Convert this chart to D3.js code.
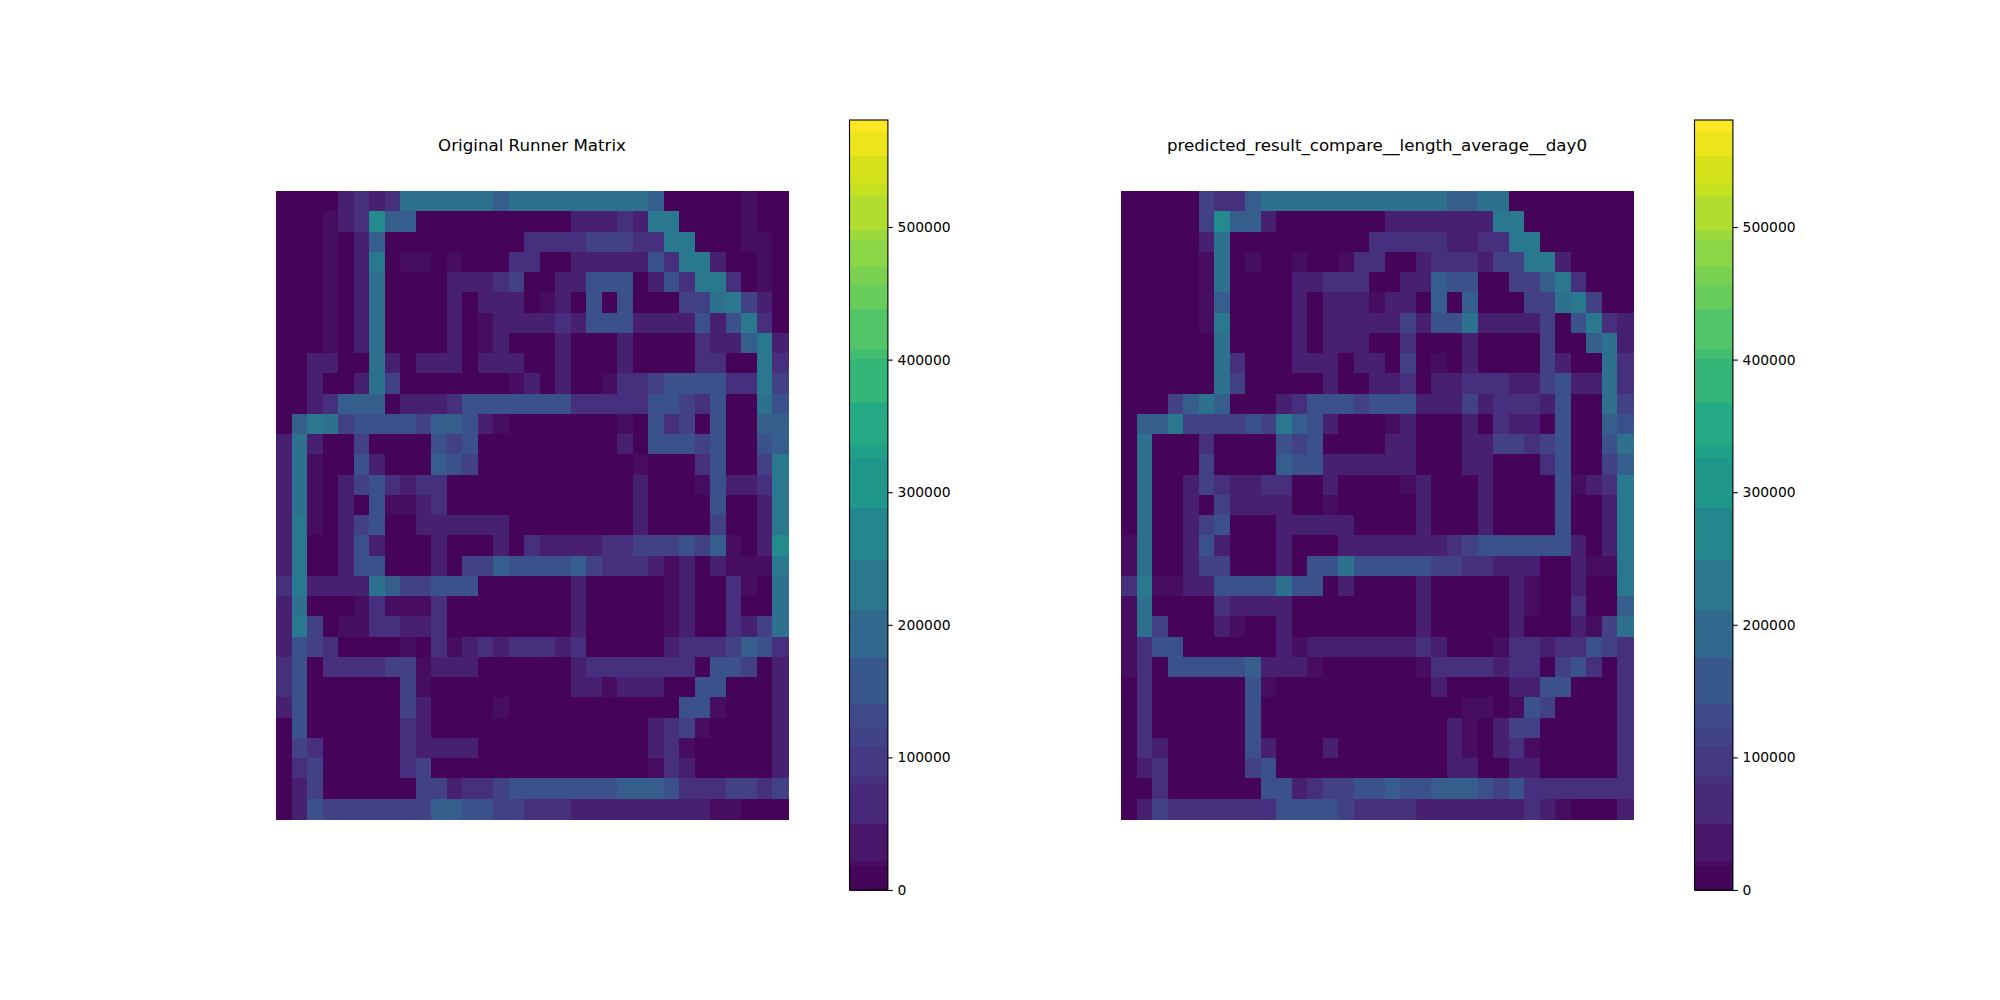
<!DOCTYPE html>
<html><head><meta charset="utf-8">
<script src="https://cdn.jsdelivr.net/npm/d3@7"></script>
<style>html,body{margin:0;padding:0;background:#fff}svg{display:block}text{font-family:"DejaVu Sans";fill:#000}</style>
</head><body><svg id="c" width="2000" height="1000"></svg>
<script>
// cell levels (values)
const a=5000,b=20000,c=50000,d=80000,e=112000,f=145000,g=172000,h=215000,i=232000,j=275000;
const leftTitle="Original Runner Matrix";
const rightTitle="predicted_result_compare__length_average__day0";
const tickValues=[0,100000,200000,300000,400000,500000];
const maxValue=580700;
const bandEdges=[0,18100,22600,49800,79200,86000,108600,122200,140300,175000,211200,249600,288100,326500,335600,367300,401200,408000,438200,456300,469900,490300,497800,524100,533200,554300,571700,580700];
const leftMatrix=[
[a,a,a,a,c,d,c,d,h,h,h,h,h,h,g,h,h,h,h,h,h,h,h,h,g,a,a,a,a,a,b,a,a],
[a,a,a,b,c,d,j,g,g,a,a,a,a,a,a,a,a,a,a,c,c,c,d,c,i,i,a,a,a,a,b,a,a],
[a,a,a,b,a,c,g,a,a,a,a,a,a,a,a,a,d,d,d,d,e,e,e,d,d,i,i,a,a,a,b,b,a],
[a,a,a,b,a,c,i,a,b,b,a,b,a,a,a,d,d,a,a,c,c,c,c,c,f,d,i,i,c,a,a,b,a],
[a,a,a,b,a,c,h,a,a,a,a,c,c,c,d,e,a,a,c,c,f,f,f,a,c,f,d,i,i,d,a,b,a],
[a,a,a,b,a,c,h,a,a,a,a,c,a,c,c,c,a,b,c,a,f,a,f,a,a,a,e,e,h,i,e,c,a],
[a,a,a,b,a,c,h,a,a,a,a,c,a,b,c,c,c,c,d,c,f,f,f,c,c,c,c,f,c,f,i,d,a],
[a,a,a,b,a,c,h,a,a,a,a,c,a,b,c,a,a,a,c,a,a,a,c,a,a,a,a,d,c,c,g,i,c],
[a,a,c,c,a,a,h,c,a,c,c,c,a,c,c,c,a,a,c,a,a,a,c,a,a,a,a,d,d,a,a,i,d],
[a,a,c,a,a,c,h,e,a,a,a,a,a,a,a,b,c,a,c,a,a,b,d,d,e,f,f,f,f,d,d,i,e],
[a,a,c,d,g,g,g,a,c,c,c,d,f,f,f,f,f,f,f,d,d,d,d,d,f,f,e,d,f,a,a,h,f],
[a,g,i,h,e,f,f,f,f,e,g,g,f,c,b,a,a,a,a,a,a,a,b,a,f,d,e,a,f,a,a,g,g],
[c,h,c,a,a,e,a,a,a,a,f,e,f,a,a,a,a,a,a,a,a,a,c,a,f,f,f,e,f,a,a,f,g],
[c,h,b,a,a,f,c,a,a,a,g,f,e,a,a,a,a,a,a,a,a,a,a,b,a,a,a,d,f,a,a,e,i],
[c,h,b,a,c,e,f,d,c,d,d,a,a,a,a,a,a,a,a,a,a,a,a,c,a,a,a,b,f,c,c,d,i],
[c,h,b,a,c,a,f,b,b,c,d,a,a,a,a,a,a,a,a,a,a,a,a,c,a,a,a,a,f,a,a,c,i],
[c,i,b,a,c,e,f,a,a,c,c,c,c,c,c,a,a,a,a,a,a,a,a,c,a,a,a,a,e,a,a,c,i],
[c,i,a,a,c,f,c,a,a,a,c,a,a,a,c,a,d,c,c,c,c,d,d,e,e,e,f,e,g,b,a,c,j],
[c,i,a,a,c,f,f,a,a,a,c,a,e,e,g,f,f,f,f,g,e,d,d,d,c,b,c,a,c,b,b,b,i],
[d,i,c,c,c,c,h,g,e,e,f,f,f,a,a,a,a,a,a,c,a,a,a,a,a,b,c,a,a,d,b,a,h],
[c,h,a,a,a,b,d,b,b,b,d,a,a,a,a,a,a,a,a,c,a,a,a,a,a,b,c,a,a,d,a,a,h],
[c,i,e,a,b,b,d,d,c,c,d,a,a,a,a,a,a,a,a,c,a,a,a,a,a,b,c,a,a,d,c,e,h],
[c,f,e,d,a,a,a,a,b,a,d,b,c,d,c,d,d,d,c,d,a,a,a,a,a,c,d,d,d,e,g,f,d],
[d,f,a,d,d,d,d,e,e,b,c,c,c,a,a,a,a,a,a,c,d,d,d,d,d,d,d,a,f,f,e,a,c],
[d,f,a,a,a,a,a,a,e,b,a,a,a,a,a,a,a,a,a,c,c,b,c,c,c,a,a,f,f,a,a,a,c],
[c,f,a,a,a,a,a,a,e,c,a,a,a,a,b,a,a,a,a,a,a,a,a,a,a,a,f,f,b,a,a,a,c],
[a,f,a,a,a,a,a,a,d,c,a,a,a,a,a,a,a,a,a,a,a,a,a,a,c,d,e,b,a,a,a,a,c],
[a,e,d,a,a,a,a,a,d,c,c,c,c,a,a,a,a,a,a,a,a,a,a,a,c,d,b,a,a,a,a,a,c],
[a,d,e,a,a,a,a,a,d,e,a,a,a,a,a,a,a,a,a,a,a,a,a,a,b,d,c,a,a,a,a,a,c],
[a,c,e,a,a,a,a,a,a,e,e,c,d,d,e,f,f,f,f,f,f,f,g,g,g,f,d,d,d,e,e,d,e],
[a,c,f,e,e,e,e,e,e,e,g,g,f,f,e,e,d,d,d,c,c,c,c,c,c,c,c,c,b,b,a,a,a]
];
const rightMatrix=[
[a,a,a,a,a,e,d,d,g,h,h,h,h,h,h,h,h,h,h,h,h,g,g,h,h,a,a,a,a,a,a,a,a],
[a,a,a,a,a,e,j,g,g,c,a,a,a,a,a,a,a,c,c,c,c,c,c,c,i,i,a,a,a,a,a,a,a],
[a,a,a,a,a,c,h,a,a,a,a,a,a,a,a,a,d,d,d,d,d,c,c,d,d,i,i,a,a,a,a,a,a],
[a,a,a,a,a,b,h,a,b,a,a,b,a,a,b,d,d,a,a,c,d,d,d,c,e,e,i,i,c,a,a,a,a],
[a,a,a,a,a,b,h,a,a,a,a,c,c,d,d,d,a,a,c,c,g,f,f,a,a,e,e,g,i,d,a,a,a],
[a,a,a,a,a,b,g,a,a,a,a,c,a,c,c,c,b,c,c,a,g,a,g,a,a,a,e,e,h,i,e,a,a],
[a,a,a,a,a,b,i,a,a,a,a,c,a,c,c,c,c,c,e,c,f,f,h,c,c,c,c,e,a,f,i,d,c],
[a,a,a,a,a,a,h,a,a,a,a,c,a,c,c,c,a,a,d,a,a,a,c,a,a,a,a,e,a,a,g,h,c],
[a,a,a,a,a,a,h,d,a,a,a,c,c,c,a,c,c,a,e,a,b,a,c,a,a,a,a,e,c,a,a,h,d],
[a,a,a,a,a,a,h,e,a,a,a,a,a,c,a,a,c,c,d,a,c,c,d,d,d,c,c,e,f,c,c,h,d],
[a,a,a,e,g,h,g,a,a,a,c,d,f,f,f,e,f,f,f,c,c,c,e,c,d,d,d,c,f,a,a,h,e],
[a,g,g,i,e,e,e,e,f,e,i,g,f,c,a,a,a,b,c,a,a,a,c,a,d,c,c,a,f,a,a,g,f],
[a,h,a,a,a,d,a,a,a,a,f,e,f,a,a,a,a,c,c,a,a,a,c,c,e,e,d,e,f,a,a,f,h],
[a,h,a,a,a,e,a,a,a,a,g,f,f,c,c,c,c,c,c,a,a,a,c,c,a,a,a,d,f,a,a,e,g],
[a,h,a,a,c,e,d,c,c,d,d,a,a,c,a,a,a,a,b,c,a,a,a,c,a,a,a,a,f,b,c,d,i],
[a,h,a,a,c,a,e,c,c,c,c,a,a,b,a,a,a,a,a,c,a,a,a,c,a,a,a,a,f,a,a,c,i],
[a,h,a,a,c,e,f,a,a,a,c,c,c,c,c,a,a,a,a,c,a,a,a,c,a,a,a,a,f,a,a,c,i],
[b,h,a,a,c,f,c,a,a,a,c,a,a,a,c,c,c,c,c,c,c,d,e,f,f,f,f,f,f,c,a,c,i],
[b,h,a,a,c,e,e,a,a,a,c,a,f,f,h,f,f,f,f,f,e,e,d,d,c,c,c,a,a,c,b,b,i],
[d,i,b,b,c,c,f,f,f,f,h,f,f,a,c,a,a,a,a,c,a,a,a,a,a,c,b,a,a,c,a,a,i],
[b,h,a,a,a,a,d,c,c,c,c,a,a,a,a,a,a,a,a,c,a,a,a,a,a,c,b,a,a,d,a,a,g],
[b,h,e,a,a,a,c,b,a,a,c,a,a,a,a,a,a,a,a,c,a,a,a,a,a,c,a,a,a,c,b,e,h],
[b,d,f,f,a,a,a,a,a,a,c,b,c,c,c,c,c,c,c,d,c,a,a,a,b,d,d,c,d,d,f,e,d],
[b,d,a,f,f,f,f,f,g,c,c,c,b,a,a,a,a,a,a,b,d,d,d,d,c,d,d,a,e,f,d,a,d],
[a,d,a,a,a,a,a,a,f,b,a,a,a,a,a,a,a,a,a,a,c,a,a,a,a,c,c,f,f,a,a,a,d],
[a,d,a,a,a,a,a,a,f,a,a,a,a,a,a,a,a,a,a,a,a,a,b,b,a,b,f,e,a,a,a,a,d],
[a,d,a,a,a,a,a,a,f,a,a,a,a,a,a,a,a,a,a,a,a,c,b,a,c,e,e,a,a,a,a,a,d],
[a,d,c,a,a,a,a,a,f,c,a,a,a,c,a,a,a,a,a,a,a,c,b,a,c,d,b,a,a,a,a,a,d],
[a,c,d,a,a,a,a,a,e,f,a,a,a,a,a,a,a,a,a,a,a,c,c,a,a,c,c,a,a,a,a,a,d],
[a,a,d,a,a,a,a,a,a,f,f,c,d,e,e,f,f,g,f,f,g,g,g,f,e,f,d,d,d,d,d,d,d],
[a,c,e,d,d,d,d,d,d,d,f,f,f,f,e,d,d,d,d,c,c,c,c,c,c,c,d,c,b,a,a,a,c]
];
const svg=d3.select("#c");
const color=v=>d3.interpolateViridis(v/maxValue);
function heat(m,x0,x1,y0,y1,title){
  const x=d3.scaleBand().domain(d3.range(m[0].length)).range([x0,x1]);
  const y=d3.scaleBand().domain(d3.range(m.length)).range([y0,y1]);
  const g0=svg.append("g").attr("shape-rendering","crispEdges");
  m.forEach((row,ri)=>{
    g0.selectAll(null).data(row).join("rect")
      .attr("x",(v,ci)=>x(ci)).attr("y",y(ri))
      .attr("width",x.bandwidth()+(x.bandwidth()%1?.5:0)).attr("height",y.bandwidth()+.5)
      .attr("fill",v=>color(v));
  });
  svg.append("text").attr("x",(x0+x1)/2).attr("y",y0-40).attr("text-anchor","middle")
    .attr("font-size",16.67).text(title);
}
function cbar(x0){
  const w=38.4,y=d3.scaleLinear().domain([0,maxValue]).range([890,120]);
  const g0=svg.append("g").attr("shape-rendering","crispEdges");
  g0.selectAll("rect").data(d3.pairs(bandEdges)).join("rect")
    .attr("x",x0).attr("width",w).attr("y",p=>y(p[1])).attr("height",p=>y(p[0])-y(p[1])+.5)
    .attr("fill",p=>color((p[0]+p[1])/2));
  svg.append("rect").attr("x",x0).attr("y",120).attr("width",w).attr("height",770)
    .attr("fill","none").attr("stroke","#000").attr("stroke-width",1.1);
  const ax=svg.append("g").attr("transform",`translate(${x0+w},0)`)
    .call(d3.axisRight(y).tickValues(tickValues).tickFormat(d3.format("d")).tickSize(4.86).tickPadding(4.86));
  ax.select(".domain").remove();
  ax.selectAll("line").attr("stroke","#000").attr("stroke-width",1.1);
  ax.selectAll("text").attr("font-size",13.89).attr("font-family","DejaVu Sans");
}
heat(leftMatrix,276,788,191,819,leftTitle);
heat(rightMatrix,1121,1633,191,819,rightTitle);
cbar(849.5);
cbar(1694.5);
</script></body></html>
